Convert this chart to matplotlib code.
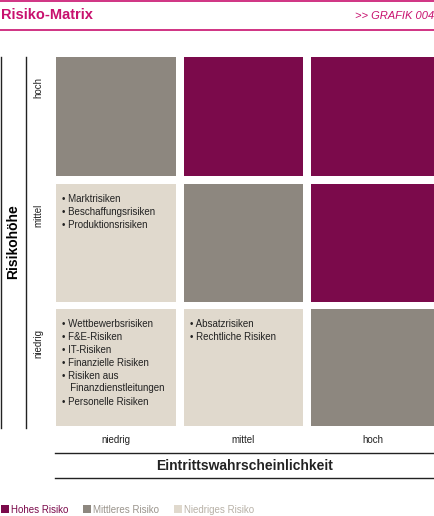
import matplotlib.pyplot as plt
from matplotlib.patches import Rectangle

plt.rcParams['font.family'] = ['Liberation Sans', 'DejaVu Sans']

# daten
levels = ['niedrig', 'mittel', 'hoch']
# risiko-stufe je zelle [zeile (höhe)][spalte (wahrscheinlichkeit)]: 0=niedrig,1=mittel,2=hoch
risk = [[0, 0, 1],
        [0, 1, 2],
        [1, 2, 2]]
cell_items = {
    (0, 0): ['Wettbewerbsrisiken', 'F&E-Risiken', 'IT-Risiken', 'Finanzielle Risiken',
             'Risiken aus\nFinanzdienstleitungen', 'Personelle Risiken'],
    (0, 1): ['Absatzrisiken', 'Rechtliche Risiken'],
    (1, 0): ['Marktrisiken', 'Beschaffungsrisiken', 'Produktionsrisiken'],
}
legend_labels = ['Hohes Risiko', 'Mittleres Risiko', 'Niedriges Risiko']

colors = ['#e0d9cd', '#8d877f', '#7b0a4b']
magenta = '#c8106e'

fig = plt.figure(figsize=(4.35, 5.16), dpi=100)
ax = fig.add_axes([0, 0, 1, 1])
ax.set_xlim(0, 435)
ax.set_ylim(516, 0)
ax.axis('off')

# kopf
ax.plot([0, 435], [1, 1], color=magenta, lw=1.2)
ax.plot([0, 435], [30, 30], color=magenta, lw=1.2)
ax.text(1, 15, 'Risiko-Matrix', color=magenta, fontsize=10.5, fontweight='bold', va='center')
ax.text(434, 16, '>> GRAFIK 004', color=magenta, fontsize=8, style='italic', va='center', ha='right')

# zellen
col_x = [(56, 176), (184, 303), (311, 435)]
row_y = [(309, 426), (184, 302), (57, 176)]  # niedrig, mittel, hoch
for r in range(3):
    for c in range(3):
        x0, x1 = col_x[c]
        y0, y1 = row_y[r]
        ax.add_patch(Rectangle((x0, y0), x1 - x0, y1 - y0, color=colors[risk[r][c]], lw=0))
        items = cell_items.get((r, c))
        if items:
            y = y0 + 10
            for it in items:
                ax.text(x0 + 6, y, '\u2022 ' + it.replace('\n', '\n   '), fontsize=7, va='top',
                        color='#222222', linespacing=1.3)
                y += 13 * (it.count('\n') + 1)

# linke achse
ax.plot([1, 1], [57, 428], color='#222222', lw=1)
ax.plot([26, 26], [57, 428], color='#222222', lw=1)
ax.text(13, 242, 'Risikohöhe', rotation=90, fontsize=10, fontweight='bold', ha='center', va='center')
for r, lab in enumerate(levels):
    y0, y1 = row_y[r]
    ax.text(38, y0 + 20, lab, rotation=90, fontsize=7, ha='center', va='top', color='#222222')

# untere achse
for c, lab in enumerate(levels):
    x0, x1 = col_x[c]
    ax.text((x0 + x1) / 2, 440, lab, fontsize=7, ha='center', va='center', color='#222222')
ax.plot([55, 435], [453, 453], color='#222222', lw=1)
ax.plot([55, 435], [478, 478], color='#222222', lw=1)
ax.text(245, 466, 'Eintrittswahrscheinlichkeit', fontsize=10, fontweight='bold', ha='center', va='center',
        color='#222222')

# legende
leg_x = [1, 83, 174]
leg_col = [colors[2], colors[1], colors[0]]
leg_txt = ['#7b0a4b', '#9a948c', '#b8b1a7']
for x, c, t, lab in zip(leg_x, leg_col, leg_txt, legend_labels):
    ax.add_patch(Rectangle((x, 505), 8, 8, color=c, lw=0))
    ax.text(x + 10, 510, lab, fontsize=7, color=t, va='center')

fig.savefig('out.png', dpi=100)
